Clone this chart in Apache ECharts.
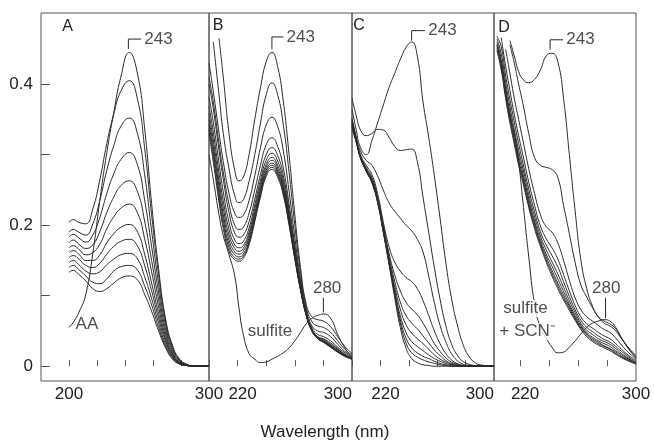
<!DOCTYPE html>
<html>
<head>
<meta charset="utf-8">
<title>UV spectra A-D</title>
<script src="https://cdn.jsdelivr.net/npm/echarts@6/dist/echarts.min.js"></script>
<style>
  html, body { margin: 0; padding: 0; background: #fff; }
  #chart { width: 654px; height: 442px; }
</style>
</head>
<body>
<div id="chart"></div>
<script>
// wavelength grids (nm) and absorbance traces

// panel A
var wlA = [200, 203, 207, 212, 217, 222, 227, 232, 237, 243, 249, 254, 259, 264, 269, 274, 279, 284, 290, 300];
var aaA = [0.055, 0.062, 0.076, 0.102, 0.160, 0.235, 0.303, 0.360, 0.410, 0.445, 0.414, 0.338, 0.231, 0.138, 0.067, 0.029, 0.010, 0.003, 0, 0];
var runsA = [
  [0.204, 0.208, 0.204, 0.202, 0.223, 0.264, 0.316, 0.358, 0.390, 0.405, 0.378, 0.310, 0.215, 0.130, 0.064, 0.027, 0.009, 0.002, 0, 0],
  [0.190, 0.194, 0.190, 0.186, 0.202, 0.235, 0.278, 0.313, 0.340, 0.352, 0.329, 0.272, 0.192, 0.117, 0.058, 0.024, 0.008, 0.002, 0, 0],
  [0.183, 0.187, 0.182, 0.176, 0.186, 0.211, 0.245, 0.273, 0.293, 0.303, 0.285, 0.236, 0.170, 0.105, 0.052, 0.022, 0.007, 0.002, 0, 0],
  [0.175, 0.179, 0.173, 0.167, 0.172, 0.191, 0.218, 0.240, 0.256, 0.263, 0.247, 0.206, 0.150, 0.094, 0.047, 0.019, 0.006, 0.002, 0, 0],
  [0.168, 0.171, 0.166, 0.158, 0.161, 0.173, 0.195, 0.212, 0.224, 0.230, 0.217, 0.181, 0.134, 0.084, 0.042, 0.017, 0.005, 0.001, 0, 0],
  [0.161, 0.164, 0.159, 0.150, 0.150, 0.158, 0.175, 0.188, 0.197, 0.201, 0.190, 0.159, 0.118, 0.075, 0.038, 0.015, 0.005, 0.001, 0, 0],
  [0.154, 0.157, 0.152, 0.143, 0.140, 0.146, 0.159, 0.170, 0.177, 0.180, 0.170, 0.143, 0.107, 0.068, 0.035, 0.014, 0.004, 0.001, 0, 0],
  [0.147, 0.150, 0.144, 0.135, 0.131, 0.134, 0.144, 0.152, 0.158, 0.160, 0.152, 0.127, 0.096, 0.061, 0.031, 0.013, 0.004, 0.001, 0, 0],
  [0.140, 0.143, 0.137, 0.128, 0.119, 0.117, 0.124, 0.135, 0.141, 0.143, 0.136, 0.114, 0.087, 0.055, 0.028, 0.011, 0.003, 0.001, 0, 0],
  [0.133, 0.136, 0.130, 0.121, 0.110, 0.106, 0.110, 0.118, 0.125, 0.128, 0.122, 0.102, 0.078, 0.050, 0.026, 0.010, 0.003, 0.001, 0, 0]
];

// panel B
var wlB = [200, 203, 207, 210, 214, 218, 221, 224, 228, 232, 236, 240, 244, 248, 252, 256, 260, 264, 268, 272, 276, 280, 285, 290, 295, 300];
var sulfiteB = [0.30, 0.265, 0.215, 0.185, 0.158, 0.128, 0.082, 0.045, 0.018, 0.010, 0.005, 0.006, 0.010, 0.014, 0.019, 0.026, 0.036, 0.048, 0.060, 0.068, 0.072, 0.074, 0.068, 0.045, 0.026, 0.012];
var runsB = [
  [null, null, 0.465, 0.41, 0.33, 0.278, 0.263, 0.268, 0.30, 0.35, 0.395, 0.432, 0.445, 0.425, 0.375, 0.30, 0.215, 0.14, 0.088, 0.07, 0.066, 0.064, 0.056, 0.042, 0.028, 0.018],
  [null, 0.46, 0.385, 0.33, 0.28, 0.242, 0.232, 0.236, 0.262, 0.30, 0.345, 0.385, 0.402, 0.385, 0.342, 0.275, 0.200, 0.133, 0.084, 0.063, 0.057, 0.055, 0.048, 0.036, 0.024, 0.016],
  [0.43, 0.39, 0.331, 0.29, 0.245, 0.217, 0.211, 0.214, 0.235, 0.27, 0.31, 0.342, 0.353, 0.340, 0.305, 0.248, 0.183, 0.124, 0.080, 0.057, 0.050, 0.048, 0.042, 0.031, 0.021, 0.014],
  [0.41, 0.375, 0.316, 0.275, 0.23, 0.20, 0.194, 0.197, 0.217, 0.25, 0.285, 0.314, 0.324, 0.312, 0.281, 0.230, 0.172, 0.118, 0.077, 0.054, 0.045, 0.042, 0.036, 0.027, 0.019, 0.013],
  [0.40, 0.365, 0.306, 0.265, 0.218, 0.189, 0.183, 0.186, 0.205, 0.237, 0.272, 0.300, 0.310, 0.299, 0.270, 0.222, 0.166, 0.115, 0.075, 0.052, 0.042, 0.039, 0.033, 0.025, 0.017, 0.012],
  [0.382, 0.346, 0.288, 0.247, 0.204, 0.179, 0.174, 0.177, 0.196, 0.229, 0.264, 0.292, 0.302, 0.291, 0.263, 0.216, 0.162, 0.113, 0.074, 0.051, 0.041, 0.038, 0.031, 0.024, 0.016, 0.011],
  [0.369, 0.332, 0.274, 0.234, 0.194, 0.172, 0.168, 0.171, 0.190, 0.223, 0.258, 0.286, 0.296, 0.285, 0.258, 0.212, 0.160, 0.112, 0.074, 0.051, 0.041, 0.037, 0.030, 0.023, 0.016, 0.011],
  [0.359, 0.321, 0.263, 0.224, 0.186, 0.167, 0.163, 0.167, 0.186, 0.218, 0.253, 0.282, 0.292, 0.281, 0.253, 0.209, 0.158, 0.111, 0.073, 0.051, 0.040, 0.036, 0.029, 0.022, 0.015, 0.011],
  [0.350, 0.312, 0.254, 0.215, 0.179, 0.162, 0.159, 0.163, 0.182, 0.214, 0.249, 0.278, 0.288, 0.277, 0.250, 0.206, 0.156, 0.110, 0.073, 0.051, 0.040, 0.035, 0.029, 0.021, 0.015, 0.010],
  [0.343, 0.304, 0.246, 0.208, 0.173, 0.158, 0.155, 0.159, 0.178, 0.211, 0.246, 0.275, 0.285, 0.274, 0.247, 0.204, 0.155, 0.109, 0.073, 0.050, 0.039, 0.035, 0.028, 0.021, 0.015, 0.010],
  [0.336, 0.297, 0.239, 0.201, 0.168, 0.154, 0.152, 0.156, 0.175, 0.208, 0.243, 0.272, 0.282, 0.271, 0.245, 0.202, 0.153, 0.108, 0.072, 0.050, 0.039, 0.034, 0.027, 0.020, 0.014, 0.010],
  [0.33, 0.29, 0.233, 0.195, 0.163, 0.151, 0.149, 0.153, 0.172, 0.205, 0.240, 0.269, 0.279, 0.268, 0.242, 0.200, 0.152, 0.108, 0.072, 0.050, 0.039, 0.034, 0.027, 0.020, 0.014, 0.010]
];

// panel C
var wlC = [200, 203, 206, 210, 214, 218, 222, 226, 230, 234, 238, 242, 246, 250, 254, 258, 262, 266, 270, 274, 278, 282, 286, 290, 300];
var runsC = [
  [0.365, 0.335, 0.31, 0.30, 0.32, 0.345, 0.37, 0.395, 0.415, 0.435, 0.452, 0.460, 0.44, 0.375, 0.325, 0.27, 0.21, 0.148, 0.097, 0.060, 0.032, 0.015, 0.006, 0.002, 0],
  [0.38, 0.355, 0.335, 0.327, 0.330, 0.336, 0.335, 0.325, 0.312, 0.306, 0.307, 0.308, 0.29, 0.24, 0.19, 0.14, 0.095, 0.058, 0.032, 0.016, 0.007, 0.003, 0.001, 0, 0],
  [0.35, 0.325, 0.305, 0.292, 0.285, 0.27, 0.25, 0.232, 0.22, 0.21, 0.20, 0.192, 0.18, 0.162, 0.128, 0.09, 0.058, 0.035, 0.018, 0.008, 0.003, 0.001, 0, 0, 0],
  [0.352, 0.324, 0.300, 0.285, 0.272, 0.245, 0.205, 0.17, 0.148, 0.135, 0.126, 0.12, 0.11, 0.093, 0.072, 0.05, 0.032, 0.018, 0.009, 0.004, 0.001, 0, 0, 0, 0],
  [0.349, 0.322, 0.298, 0.282, 0.268, 0.240, 0.200, 0.161, 0.130, 0.107, 0.091, 0.081, 0.073, 0.061, 0.047, 0.032, 0.021, 0.012, 0.006, 0.003, 0.001, 0, 0, 0, 0],
  [0.347, 0.321, 0.297, 0.280, 0.265, 0.238, 0.197, 0.156, 0.121, 0.091, 0.072, 0.061, 0.053, 0.043, 0.033, 0.023, 0.015, 0.008, 0.004, 0.002, 0, 0, 0, 0, 0],
  [0.345, 0.320, 0.297, 0.279, 0.264, 0.236, 0.195, 0.153, 0.114, 0.081, 0.059, 0.047, 0.039, 0.032, 0.024, 0.016, 0.010, 0.006, 0.003, 0.001, 0, 0, 0, 0, 0],
  [0.343, 0.319, 0.296, 0.278, 0.263, 0.235, 0.193, 0.150, 0.109, 0.072, 0.048, 0.035, 0.028, 0.022, 0.016, 0.011, 0.007, 0.004, 0.002, 0.001, 0, 0, 0, 0, 0],
  [0.341, 0.318, 0.296, 0.277, 0.262, 0.234, 0.192, 0.148, 0.105, 0.066, 0.040, 0.026, 0.019, 0.014, 0.011, 0.007, 0.004, 0.002, 0.001, 0, 0, 0, 0, 0, 0],
  [0.339, 0.318, 0.295, 0.277, 0.261, 0.233, 0.191, 0.147, 0.102, 0.061, 0.033, 0.019, 0.013, 0.009, 0.006, 0.004, 0.002, 0.001, 0, 0, 0, 0, 0, 0, 0],
  [0.336, 0.318, 0.295, 0.276, 0.260, 0.232, 0.19, 0.145, 0.098, 0.055, 0.026, 0.011, 0.005, 0.002, 0.001, 0, 0, 0, 0, 0, 0, 0, 0, 0, 0]
];

// panel D
var wlD = [204, 207, 210, 213, 216, 219, 222, 226, 230, 234, 238, 242, 246, 250, 254, 258, 262, 266, 270, 274, 278, 282, 286, 290, 295, 300];
var scnD = [0.455, 0.43, 0.39, 0.355, 0.33, 0.29, 0.232, 0.155, 0.088, 0.055, 0.040, 0.027, 0.019, 0.020, 0.027, 0.036, 0.046, 0.055, 0.061, 0.064, 0.066, 0.064, 0.055, 0.040, 0.024, 0.012];
var runsD = [
  [null, null, null, 0.462, 0.44, 0.418, 0.407, 0.402, 0.407, 0.42, 0.440, 0.444, 0.432, 0.38, 0.30, 0.22, 0.15, 0.110, 0.085, 0.070, 0.064, 0.060, 0.053, 0.040, 0.025, 0.012],
  [null, null, null, 0.456, 0.43, 0.40, 0.372, 0.33, 0.296, 0.285, 0.282, 0.279, 0.268, 0.228, 0.188, 0.147, 0.115, 0.098, 0.083, 0.070, 0.061, 0.057, 0.050, 0.039, 0.026, 0.015],
  [null, null, 0.45, 0.415, 0.38, 0.35, 0.32, 0.28, 0.245, 0.215, 0.198, 0.19, 0.175, 0.150, 0.122, 0.097, 0.080, 0.070, 0.064, 0.058, 0.052, 0.048, 0.040, 0.030, 0.019, 0.010],
  [null, 0.466, 0.426, 0.391, 0.357, 0.327, 0.299, 0.261, 0.228, 0.199, 0.181, 0.168, 0.152, 0.130, 0.107, 0.086, 0.070, 0.060, 0.054, 0.048, 0.043, 0.039, 0.032, 0.024, 0.015, 0.008],
  [0.468, 0.453, 0.413, 0.378, 0.346, 0.316, 0.288, 0.251, 0.219, 0.191, 0.172, 0.157, 0.141, 0.120, 0.099, 0.080, 0.065, 0.055, 0.049, 0.043, 0.038, 0.034, 0.028, 0.021, 0.013, 0.006],
  [0.464, 0.443, 0.403, 0.368, 0.336, 0.306, 0.280, 0.243, 0.212, 0.185, 0.165, 0.148, 0.131, 0.112, 0.093, 0.076, 0.061, 0.051, 0.045, 0.039, 0.035, 0.031, 0.025, 0.018, 0.011, 0.005],
  [0.46, 0.435, 0.395, 0.360, 0.329, 0.299, 0.273, 0.237, 0.206, 0.180, 0.159, 0.142, 0.124, 0.106, 0.088, 0.072, 0.058, 0.048, 0.041, 0.036, 0.032, 0.028, 0.022, 0.016, 0.010, 0.005],
  [0.456, 0.429, 0.389, 0.354, 0.323, 0.293, 0.268, 0.232, 0.202, 0.176, 0.155, 0.136, 0.118, 0.101, 0.085, 0.069, 0.056, 0.046, 0.039, 0.034, 0.029, 0.025, 0.020, 0.014, 0.009, 0.004],
  [0.452, 0.424, 0.384, 0.349, 0.319, 0.289, 0.264, 0.228, 0.198, 0.173, 0.151, 0.132, 0.114, 0.097, 0.082, 0.067, 0.054, 0.044, 0.037, 0.032, 0.028, 0.024, 0.018, 0.013, 0.008, 0.003],
  [0.448, 0.42, 0.38, 0.345, 0.315, 0.285, 0.26, 0.225, 0.195, 0.17, 0.148, 0.128, 0.110, 0.094, 0.079, 0.065, 0.052, 0.042, 0.035, 0.030, 0.026, 0.022, 0.017, 0.012, 0.007, 0.003]
];

// axis ticks and labels
var xTicks = [200, 220, 240, 260, 280];
var xLabelsA = [200, 300];
var xLabelsBCD = [220, 300];
var yTicks = [0, 0.1, 0.2, 0.3, 0.4];
var yLabels = [0, 0.2, 0.4];

// annotation anchors (nm, absorbance)
var peakMarkA = [[242.4, 0.45], [242.4, 0.464], [251.5, 0.464]];
var peakMarkB = [[244, 0.45], [244, 0.467], [252, 0.467]];
var peakMarkC = [[242, 0.462], [242, 0.476], [251.5, 0.476]];
var peakMarkD = [[240.7, 0.449], [240.7, 0.463], [249.7, 0.463]];
var mark280B = [[280, 0.076], [280, 0.097]];
var mark280D = [[279, 0.068], [279, 0.097]];

var FONT = 'Liberation Sans, Arial, Helvetica, sans-serif';
var INK = '#222';
var FRAME = '#555';
var LINE = '#2a2a2a';

var myChart = echarts.init(document.getElementById('chart'));

function trace(wl, vals, idx) {
    var d = [];
    for (var i = 0; i < wl.length; i++) {
        if (vals[i] != null) d.push([wl[i], vals[i]]);
    }
    return {
        type: 'line', xAxisIndex: idx, yAxisIndex: idx, data: d,
        smooth: 0.5, symbol: 'none', silent: true,
        lineStyle: { color: LINE, width: 1 }
    };
}
function bracket(pts, idx) {
    return {
        type: 'line', xAxisIndex: idx, yAxisIndex: idx, data: pts,
        symbol: 'none', silent: true, lineStyle: { color: LINE, width: 1 }
    };
}
function note(pt, text, idx, pos, bg) {
    return {
        type: 'scatter', xAxisIndex: idx, yAxisIndex: idx, data: [pt],
        symbolSize: 0, silent: true, z: 5,
        label: {
            show: true, position: pos, distance: 2, formatter: text,
            color: INK, fontFamily: FONT, fontSize: 17,
            backgroundColor: bg || 'transparent', padding: bg ? [0, 1] : 0
        }
    };
}

var series = [];
series.push(trace(wlA, aaA, 0));
runsA.forEach(function (r) { series.push(trace(wlA, r, 0)); });
runsB.forEach(function (r) { series.push(trace(wlB, r, 1)); });
series.push(trace(wlB, sulfiteB, 1));
runsC.forEach(function (r) { series.push(trace(wlC, r, 2)); });
runsD.forEach(function (r) { series.push(trace(wlD, r, 3)); });
series.push(trace(wlD, scnD, 3));

series.push(bracket(peakMarkA, 0), note([252.3, 0.464], '243', 0, 'right'));
series.push(note([212.8, 0.059], 'AA', 0, 'inside'));
series.push(bracket(peakMarkB, 1), note([252.8, 0.467], '243', 1, 'right'));
series.push(bracket(mark280B, 1), note([282.6, 0.110], '280', 1, 'inside'));
series.push(note([242.6, 0.050], 'sulfite', 1, 'inside'));
series.push(bracket(peakMarkC, 2), note([252.3, 0.476], '243', 2, 'right'));
series.push(bracket(peakMarkD, 3), note([250.5, 0.463], '243', 3, 'right'));
series.push(bracket(mark280D, 3), note([279.5, 0.111], '280', 3, 'inside'));
series.push(note([223.7, 0.082], 'sulfite', 3, 'inside', '#fff'));
series.push(note([225.2, 0.049], '+ SCN\u207B', 3, 'inside', '#fff'));

var panels = [
    { left: 41, width: 168, min: 180, labels: xLabelsA, maxAlign: 'center' },
    { left: 209, width: 143, min: 200, labels: xLabelsBCD, maxAlign: 'right' },
    { left: 352, width: 142, min: 200, labels: xLabelsBCD, maxAlign: 'right' },
    { left: 494, width: 142, min: 202, labels: xLabelsBCD, maxAlign: 'center' }
];

var option = {
    animation: false,
    textStyle: { fontFamily: FONT },
    grid: panels.map(function (p) {
        return { left: p.left, top: 13, width: p.width, height: 368, show: true,
                 borderColor: FRAME, borderWidth: 1 };
    }),
    xAxis: panels.map(function (p, i) {
        return {
            type: 'value', gridIndex: i, min: p.min, max: 300,
            axisLine: { show: false }, splitLine: { show: false },
            axisTick: { show: true, inside: true, length: 6, customValues: xTicks,
                        lineStyle: { color: FRAME } },
            axisLabel: {
                customValues: p.labels, margin: 5, color: INK, fontSize: 17, fontFamily: FONT,
                alignMaxLabel: p.maxAlign,
                formatter: function (v) { return v === 220 ? '{s|220}' : String(v); },
                rich: { s: { fontSize: 17, fontFamily: FONT, color: INK, padding: [0, 0, 0, 10] } }
            }
        };
    }),
    yAxis: panels.map(function (p, i) {
        if (i > 0) return { type: 'value', gridIndex: i, min: -0.021, max: 0.501, show: false };
        return {
            type: 'value', gridIndex: 0, min: -0.021, max: 0.501,
            axisLine: { show: false }, splitLine: { show: false },
            axisTick: { show: true, inside: true, length: 9, customValues: yTicks,
                        lineStyle: { color: FRAME } },
            axisLabel: {
                customValues: yLabels, margin: 8, color: INK, fontSize: 17, fontFamily: FONT,
                formatter: function (v) { return v === 0 ? '0' : v.toFixed(1); }
            }
        };
    }),
    graphic: [
        { type: 'text', x: 67.5, y: 27, style: { text: 'A', fill: INK, font: '16px ' + FONT, align: 'center', verticalAlign: 'middle' } },
        { type: 'text', x: 218, y: 26, style: { text: 'B', fill: INK, font: '16px ' + FONT, align: 'center', verticalAlign: 'middle' } },
        { type: 'text', x: 359, y: 26, style: { text: 'C', fill: INK, font: '16px ' + FONT, align: 'center', verticalAlign: 'middle' } },
        { type: 'text', x: 504, y: 28, style: { text: 'D', fill: INK, font: '16px ' + FONT, align: 'center', verticalAlign: 'middle' } },
        { type: 'text', x: 325, y: 432, style: { text: 'Wavelength (nm)', fill: INK, font: '17px ' + FONT, align: 'center', verticalAlign: 'middle' } }
    ],
    series: series
};
myChart.setOption(option);
</script>
</body>
</html>
